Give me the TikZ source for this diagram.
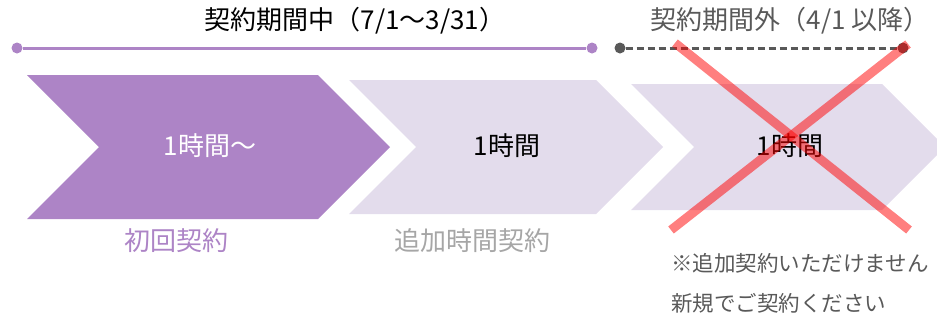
\documentclass[tikz,border=0pt]{standalone}
\usepackage{fontspec}
\setmainfont{Noto Sans CJK JP}
\definecolor{darkpurple}{HTML}{AD84C6}
\definecolor{lightpurple}{HTML}{E3DCEC}
\definecolor{textgray}{HTML}{595959}
\definecolor{labelgray}{HTML}{A6A6A6}

\begin{document}
\begin{tikzpicture}[x=1pt, y=-1pt,
        dot/.style={circle, inner sep=0pt, minimum size=11pt},
        jtext/.style={inner sep=0pt, font=\fontsize{26}{30}\selectfont},
        notetext/.style={inner sep=0pt, anchor=west, text=textgray, font=\fontsize{21.5}{26}\selectfont},
        crossline/.style={red, opacity=0.5, line width=9pt}]
        \useasboundingbox (0, 0) rectangle (937, 322);
        \clip (0, 0) rectangle (937, 322);
        % chevrons
        \fill[darkpurple] (27, 75) -- (318, 75) -- (390, 147) -- (318, 219) -- (27, 219) -- (99, 147) -- cycle;
        \fill[lightpurple] (349, 80) -- (596, 80) -- (663, 147) -- (596, 214) -- (349, 214) -- (416, 147) -- cycle;
        \fill[lightpurple] (631, 84) -- (882, 84) -- (945, 147) -- (882, 210) -- (631, 210) -- (694, 147) -- cycle;
        \node[jtext, text=white] (first) at (210, 146) {1時間〜};
        \node[jtext] (extra) at (507, 146) {1時間};
        \node[jtext] (after) at (790, 146) {1時間};
        % period lines
        \node[jtext] (intitle) at (355, 21) {契約期間中（7/1〜3/31）};
        \node[jtext, text=textgray] (outtitle) at (790, 21) {契約期間外（4/1 以降）};
        \node[dot, fill=darkpurple] (ins) at (17, 48) {};
        \node[dot, fill=darkpurple] (ine) at (592, 48) {};
        \node[dot, fill=textgray] (outs) at (620, 48) {};
        \node[dot, fill=textgray] (oute) at (903, 48) {};
        \draw[darkpurple, line width=3pt] (ins) -- (ine);
        \draw[textgray, line width=3pt, dash pattern=on 7pt off 4pt] (outs) -- (oute);
        % labels
        \node[jtext, text=darkpurple] (firstlbl) at (176, 241) {初回契約};
        \node[jtext, text=labelgray] (extralbl) at (472, 241) {追加時間契約};
        \node[notetext] (note1) at (671, 263) {※追加契約いただけません};
        \node[notetext] (note2) at (671, 303) {新規でご契約ください};
        % cross
        \coordinate (xa) at (675, 43);
        \coordinate (xb) at (909, 230);
        \coordinate (xc) at (908, 44);
        \coordinate (xd) at (671, 230);
        \draw[crossline] (xa) -- (xb);
        \draw[crossline] (xc) -- (xd);
\end{tikzpicture}
\end{document}
